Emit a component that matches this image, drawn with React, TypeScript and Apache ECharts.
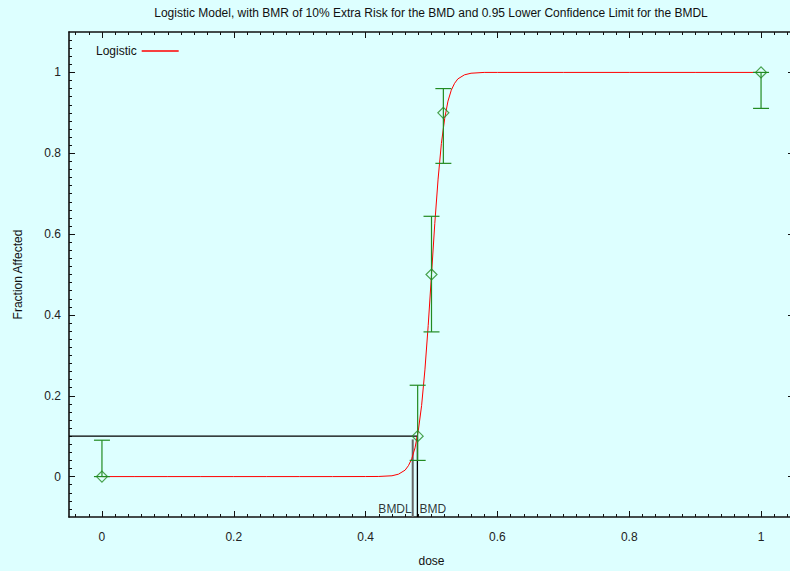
import React, { useEffect, useRef } from "react";
import * as echarts from "echarts";

const titleText =
  "Logistic Model, with BMR of 10% Extra Risk for the BMD and 0.95 Lower Confidence Limit for the BMDL";

// Observed data with confidence limits
const doses = [0, 0.479, 0.5, 0.518, 1];
const fractions = [0, 0.1, 0.5, 0.9, 1];
const lowerCI = [0, 0.04, 0.358, 0.775, 0.911];
const upperCI = [0.09, 0.226, 0.644, 0.96, 1];

// Fitted logistic curve
const curveDose = [
  0, 0.05, 0.1, 0.15, 0.2, 0.25, 0.3, 0.35, 0.4, 0.42, 0.44, 0.45, 0.46, 0.465, 0.47,
  0.475, 0.48, 0.485, 0.49, 0.495, 0.5, 0.505, 0.51, 0.515, 0.52, 0.525, 0.53, 0.535,
  0.54, 0.55, 0.56, 0.58, 0.6, 0.7, 0.8, 0.9, 1.0,
];
const curveFrac = [
  0, 0, 0, 0, 0, 0, 0, 0, 0.0001, 0.0003, 0.002, 0.006, 0.016, 0.027, 0.044, 0.071,
  0.114, 0.176, 0.264, 0.374, 0.5, 0.626, 0.736, 0.824, 0.886, 0.929, 0.956, 0.973,
  0.984, 0.994, 0.998, 1, 1, 1, 1, 1, 1,
];

// Tick values
const xTicks = [0, 0.2, 0.4, 0.6, 0.8, 1];
const yTicks = [0, 0.2, 0.4, 0.6, 0.8, 1];
const minorStep = 0.02;

const bmr = 0.1;
const bmd = 0.4786;
const bmdl = 0.4715;

const xMin = -0.05;
const xMax = 1.05;
const yMin = -0.1;
const yMax = 1.1;

const FONT = "'Liberation Sans', Arial, Helvetica, sans-serif";
const GREEN = "#228B22";

function minorTicks(lo: number, hi: number, step: number, majors: number[]) {
  const out: number[] = [];
  const start = Math.ceil(lo / step - 1e-9);
  const end = Math.floor(hi / step + 1e-9);
  for (let i = start; i <= end; i++) {
    const v = Math.round(i * step * 1000) / 1000;
    if (v <= lo || v >= hi) continue;
    if (majors.some((m) => Math.abs(m - v) < 1e-9)) continue;
    if (Math.abs(Math.round(v / 0.2) * 0.2 - v) < 1e-9) continue;
    out.push(v);
  }
  return out;
}

export default function App() {
  const ref = useRef<HTMLDivElement>(null);

  useEffect(() => {
    if (!ref.current) return;
    const chart = echarts.init(ref.current, undefined, { renderer: "svg" });

    const xMinor = minorTicks(xMin, xMax, minorStep, xTicks);
    const yMinor = minorTicks(yMin, yMax, minorStep, yTicks);

    const tickStyle = { color: "#111", width: 1 };
    const lineStyle = { color: "#111", width: 1.6 };

    const mkAxis = (
      position: string,
      min: number,
      max: number,
      ticks: number[],
      len: number,
      showLine: boolean,
      extra: any = {}
    ) => ({
      type: "value",
      position,
      min,
      max,
      axisLine: { show: showLine, onZero: false, lineStyle },
      axisTick: { show: true, inside: true, length: len, customValues: ticks, lineStyle: tickStyle },
      minorTick: { show: false },
      splitLine: { show: false },
      axisLabel: { show: false },
      ...extra,
    });

    const labelStyle = { fontSize: 12, color: "#222", fontFamily: FONT };

    const option: any = {
      animation: false,
      backgroundColor: "#DDFFFF",
      textStyle: { fontFamily: FONT },
      grid: {
        left: 69,
        top: 32,
        width: 725,
        height: 485,
        containLabel: false,
        outerBoundsMode: "none",
      },
      legend: {
        left: 91,
        top: 40,
        align: "right",
        icon: "rect",
        itemWidth: 37,
        itemHeight: 1.5,
        textStyle: { fontSize: 12, color: "#111", fontFamily: FONT },
        data: [{ name: "Logistic", itemStyle: { color: "#ff0000" } }],
      },
      graphic: [
        {
          type: "text",
          x: 431,
          y: 13,
          style: {
            text: titleText,
            align: "center",
            verticalAlign: "middle",
            fontSize: 12,
            fontFamily: FONT,
            fill: "#111",
          },
        },
      ],
      xAxis: [
        mkAxis("bottom", xMin, xMax, xTicks, 6, true, {
          name: "dose",
          nameLocation: "middle",
          nameGap: 38,
          nameTextStyle: { fontSize: 12, color: "#111", fontFamily: FONT },
          axisLabel: { show: true, margin: 14, customValues: xTicks, ...labelStyle },
        }),
        mkAxis("top", xMin, xMax, xTicks, 6, true),
        mkAxis("bottom", xMin, xMax, xMinor, 3, false),
        mkAxis("top", xMin, xMax, xMinor, 3, false),
      ],
      yAxis: [
        mkAxis("left", yMin, yMax, yTicks, 6, true, {
          name: "Fraction Affected",
          nameLocation: "middle",
          nameGap: 45,
          nameTextStyle: { fontSize: 12, color: "#111", fontFamily: FONT },
          axisLabel: { show: true, margin: 8, customValues: yTicks, ...labelStyle },
        }),
        mkAxis("right", yMin, yMax, yTicks, 6, true),
        mkAxis("left", yMin, yMax, yMinor, 3, false),
        mkAxis("right", yMin, yMax, yMinor, 3, false),
      ],
      series: [
        {
          name: "BMD line",
          type: "line",
          xAxisIndex: 0,
          yAxisIndex: 0,
          symbol: "none",
          silent: true,
          lineStyle: { color: "#000", width: 1.3 },
          data: [
            [xMin, bmr],
            [bmd, bmr],
            [bmd, yMin],
          ],
          z: 2,
        },
        {
          name: "BMDL line",
          type: "line",
          xAxisIndex: 0,
          yAxisIndex: 0,
          symbol: "none",
          silent: true,
          lineStyle: { color: "#666", width: 2 },
          data: [
            [bmdl, bmr - 0.008],
            [bmdl, yMin],
          ],
          z: 2,
        },
        {
          name: "BMDL label",
          type: "scatter",
          xAxisIndex: 0,
          yAxisIndex: 0,
          symbolSize: 0,
          itemStyle: { color: "transparent" },
          silent: true,
          data: [[bmdl, yMin]],
          label: {
            show: true,
            formatter: "BMDL",
            position: "top",
            align: "right",
            distance: 2,
            offset: [-1, 0],
            fontSize: 12,
            color: "#000",
            fontFamily: FONT,
          },
          z: 6,
        },
        {
          name: "BMD label",
          type: "scatter",
          xAxisIndex: 0,
          yAxisIndex: 0,
          symbolSize: 0,
          itemStyle: { color: "transparent" },
          silent: true,
          data: [[bmd, yMin]],
          label: {
            show: true,
            formatter: "BMD",
            position: "top",
            align: "left",
            distance: 2,
            offset: [2, 0],
            fontSize: 12,
            color: "#000",
            fontFamily: FONT,
          },
          z: 6,
        },
        {
          name: "Logistic",
          type: "line",
          xAxisIndex: 0,
          yAxisIndex: 0,
          symbol: "none",
          color: "#ff0000",
          lineStyle: { color: "#ff0000", width: 1 },
          data: curveDose.map((d, i) => [d, curveFrac[i]]),
          z: 3,
        },
        {
          name: "Error bars",
          type: "custom",
          xAxisIndex: 0,
          yAxisIndex: 0,
          silent: true,
          data: doses.map((d, i) => [d, lowerCI[i], upperCI[i]]),
          renderItem: (params: any, api: any) => {
            const x = api.value(0);
            const lo = api.coord([x, api.value(1)]);
            const hi = api.coord([x, api.value(2)]);
            const w = 8;
            const style = { stroke: GREEN, lineWidth: 1.2 };
            return {
              type: "group",
              children: [
                { type: "line", shape: { x1: lo[0], y1: lo[1], x2: hi[0], y2: hi[1] }, style },
                { type: "line", shape: { x1: lo[0] - w, y1: lo[1], x2: lo[0] + w, y2: lo[1] }, style },
                { type: "line", shape: { x1: hi[0] - w, y1: hi[1], x2: hi[0] + w, y2: hi[1] }, style },
              ],
            };
          },
          z: 4,
        },
        {
          name: "Observed",
          type: "scatter",
          xAxisIndex: 0,
          yAxisIndex: 0,
          symbol: "diamond",
          symbolSize: 11,
          itemStyle: { color: "transparent", borderColor: GREEN, borderWidth: 1.2 },
          data: doses.map((d, i) => [d, fractions[i]]),
          z: 5,
        },
      ],
    };

    chart.setOption(option);
    return () => chart.dispose();
  }, []);

  return (
    <div
      ref={ref}
      style={{ position: "absolute", left: 0, top: 0, width: 790, height: 571 }}
    />
  );
}
